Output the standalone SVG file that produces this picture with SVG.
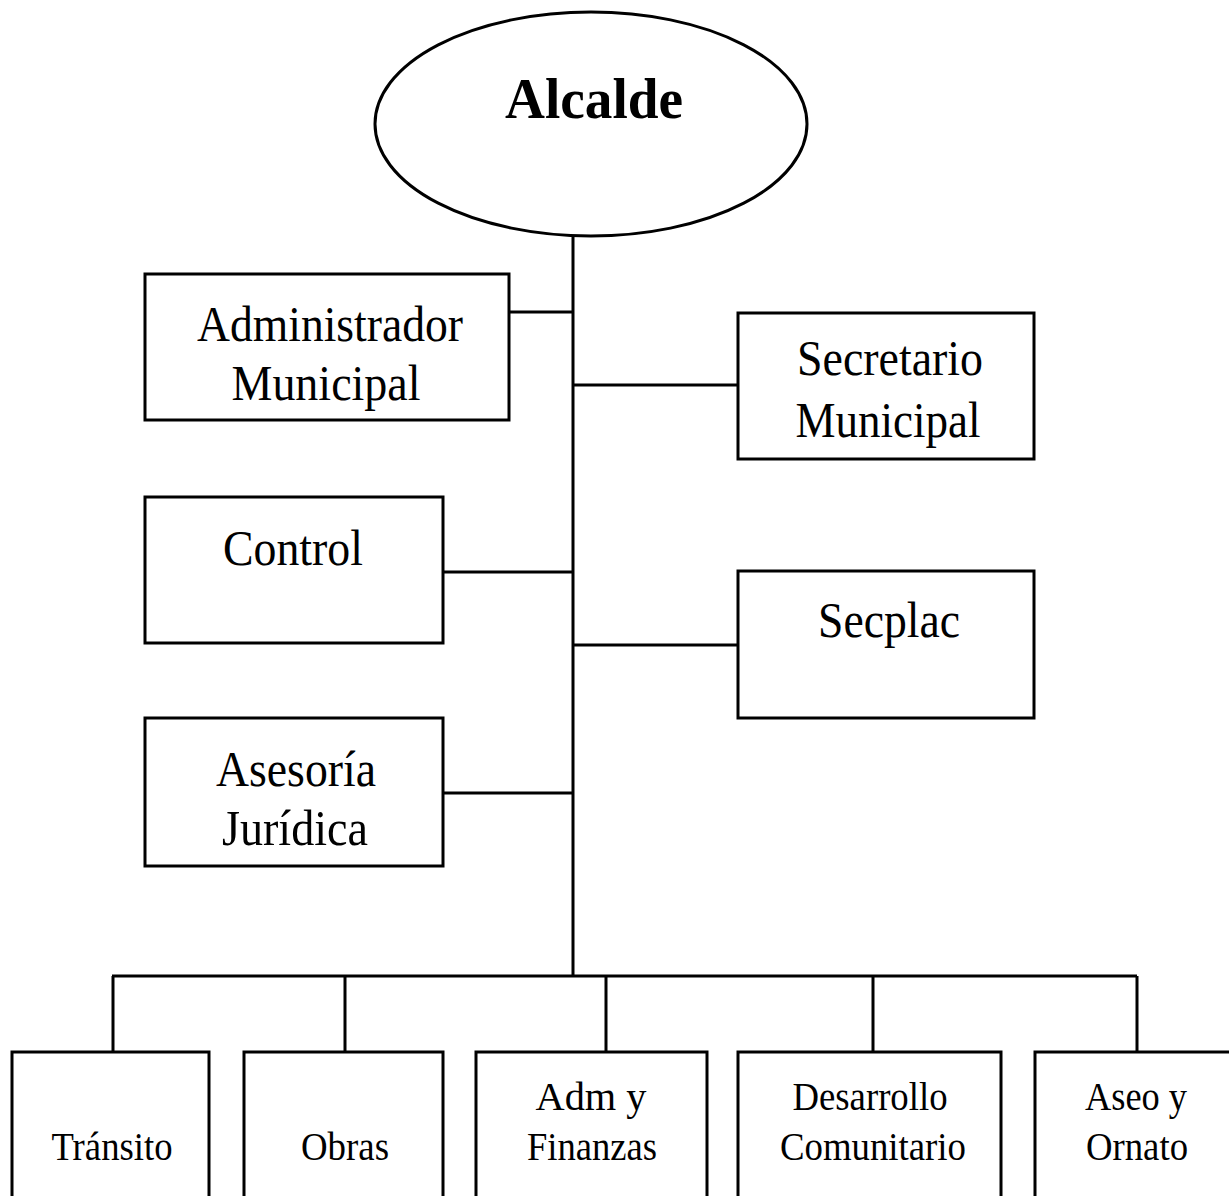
<svg xmlns="http://www.w3.org/2000/svg" width="1229" height="1196" viewBox="0 0 1229 1196">
<style>
.box{fill:#fff;stroke:#000;stroke-width:3}
.ln{stroke:#000;stroke-width:3;fill:none}
.t{font-family:"Liberation Serif","Times New Roman",serif;font-size:50px;fill:#000;text-anchor:middle}
.s{font-family:"Liberation Serif","Times New Roman",serif;font-size:40px;fill:#000;text-anchor:middle}
.b{font-family:"Liberation Serif","Times New Roman",serif;font-size:57px;font-weight:bold;fill:#000;text-anchor:middle}
</style>
<rect width="1229" height="1196" fill="#fff"/>
<g id="connectors">
<path class="ln" d="M573 236V975"/>
<path class="ln" d="M509 312H573"/>
<path class="ln" d="M573 385H738"/>
<path class="ln" d="M443 572H573"/>
<path class="ln" d="M573 645H738"/>
<path class="ln" d="M443 793H573"/>
<path class="ln" d="M112 976H1137"/>
<path class="ln" d="M113 976V1052M345 976V1052M606 976V1052M873 976V1052M1137 976V1052"/>
</g>
<g id="alcalde">
<ellipse class="box" cx="591" cy="124" rx="216" ry="112"/>
<text class="b" x="594" y="118" textLength="178" lengthAdjust="spacingAndGlyphs">Alcalde</text>
</g>
<g id="administrador">
<rect class="box" x="145" y="274" width="364" height="146"/>
<text class="t" x="330" y="341" textLength="266" lengthAdjust="spacingAndGlyphs">Administrador</text>
<text class="t" x="326" y="400" textLength="189" lengthAdjust="spacingAndGlyphs">Municipal</text>
</g>
<g id="secretario">
<rect class="box" x="738" y="313" width="296" height="146"/>
<text class="t" x="890" y="375" textLength="186" lengthAdjust="spacingAndGlyphs">Secretario</text>
<text class="t" x="888" y="437" textLength="185" lengthAdjust="spacingAndGlyphs">Municipal</text>
</g>
<g id="control">
<rect class="box" x="145" y="497" width="298" height="146"/>
<text class="t" x="293" y="565" textLength="140" lengthAdjust="spacingAndGlyphs">Control</text>
</g>
<g id="secplac">
<rect class="box" x="738" y="571" width="296" height="147"/>
<text class="t" x="889" y="637" textLength="142" lengthAdjust="spacingAndGlyphs">Secplac</text>
</g>
<g id="asesoria">
<rect class="box" x="145" y="718" width="298" height="148"/>
<text class="t" x="296" y="786" textLength="160" lengthAdjust="spacingAndGlyphs">Asesoría</text>
<text class="t" x="295" y="845" textLength="146" lengthAdjust="spacingAndGlyphs">Jurídica</text>
</g>
<g id="transito">
<rect class="box" x="12" y="1052" width="197" height="160"/>
<text class="s" x="112" y="1160" textLength="121" lengthAdjust="spacingAndGlyphs">Tránsito</text>
</g>
<g id="obras">
<rect class="box" x="244" y="1052" width="199" height="160"/>
<text class="s" x="345" y="1160" textLength="88" lengthAdjust="spacingAndGlyphs">Obras</text>
</g>
<g id="adm-finanzas">
<rect class="box" x="476" y="1052" width="231" height="160"/>
<text class="s" x="591" y="1110" textLength="111" lengthAdjust="spacingAndGlyphs">Adm  y</text>
<text class="s" x="592" y="1160" textLength="130" lengthAdjust="spacingAndGlyphs">Finanzas</text>
</g>
<g id="desarrollo">
<rect class="box" x="738" y="1052" width="263" height="160"/>
<text class="s" x="870" y="1110" textLength="155" lengthAdjust="spacingAndGlyphs">Desarrollo</text>
<text class="s" x="873" y="1160" textLength="186" lengthAdjust="spacingAndGlyphs">Comunitario</text>
</g>
<g id="aseo">
<rect class="box" x="1035" y="1052" width="200" height="160"/>
<text class="s" x="1136" y="1110" textLength="102" lengthAdjust="spacingAndGlyphs">Aseo y</text>
<text class="s" x="1137" y="1160" textLength="102" lengthAdjust="spacingAndGlyphs">Ornato</text>
</g>
</svg>
